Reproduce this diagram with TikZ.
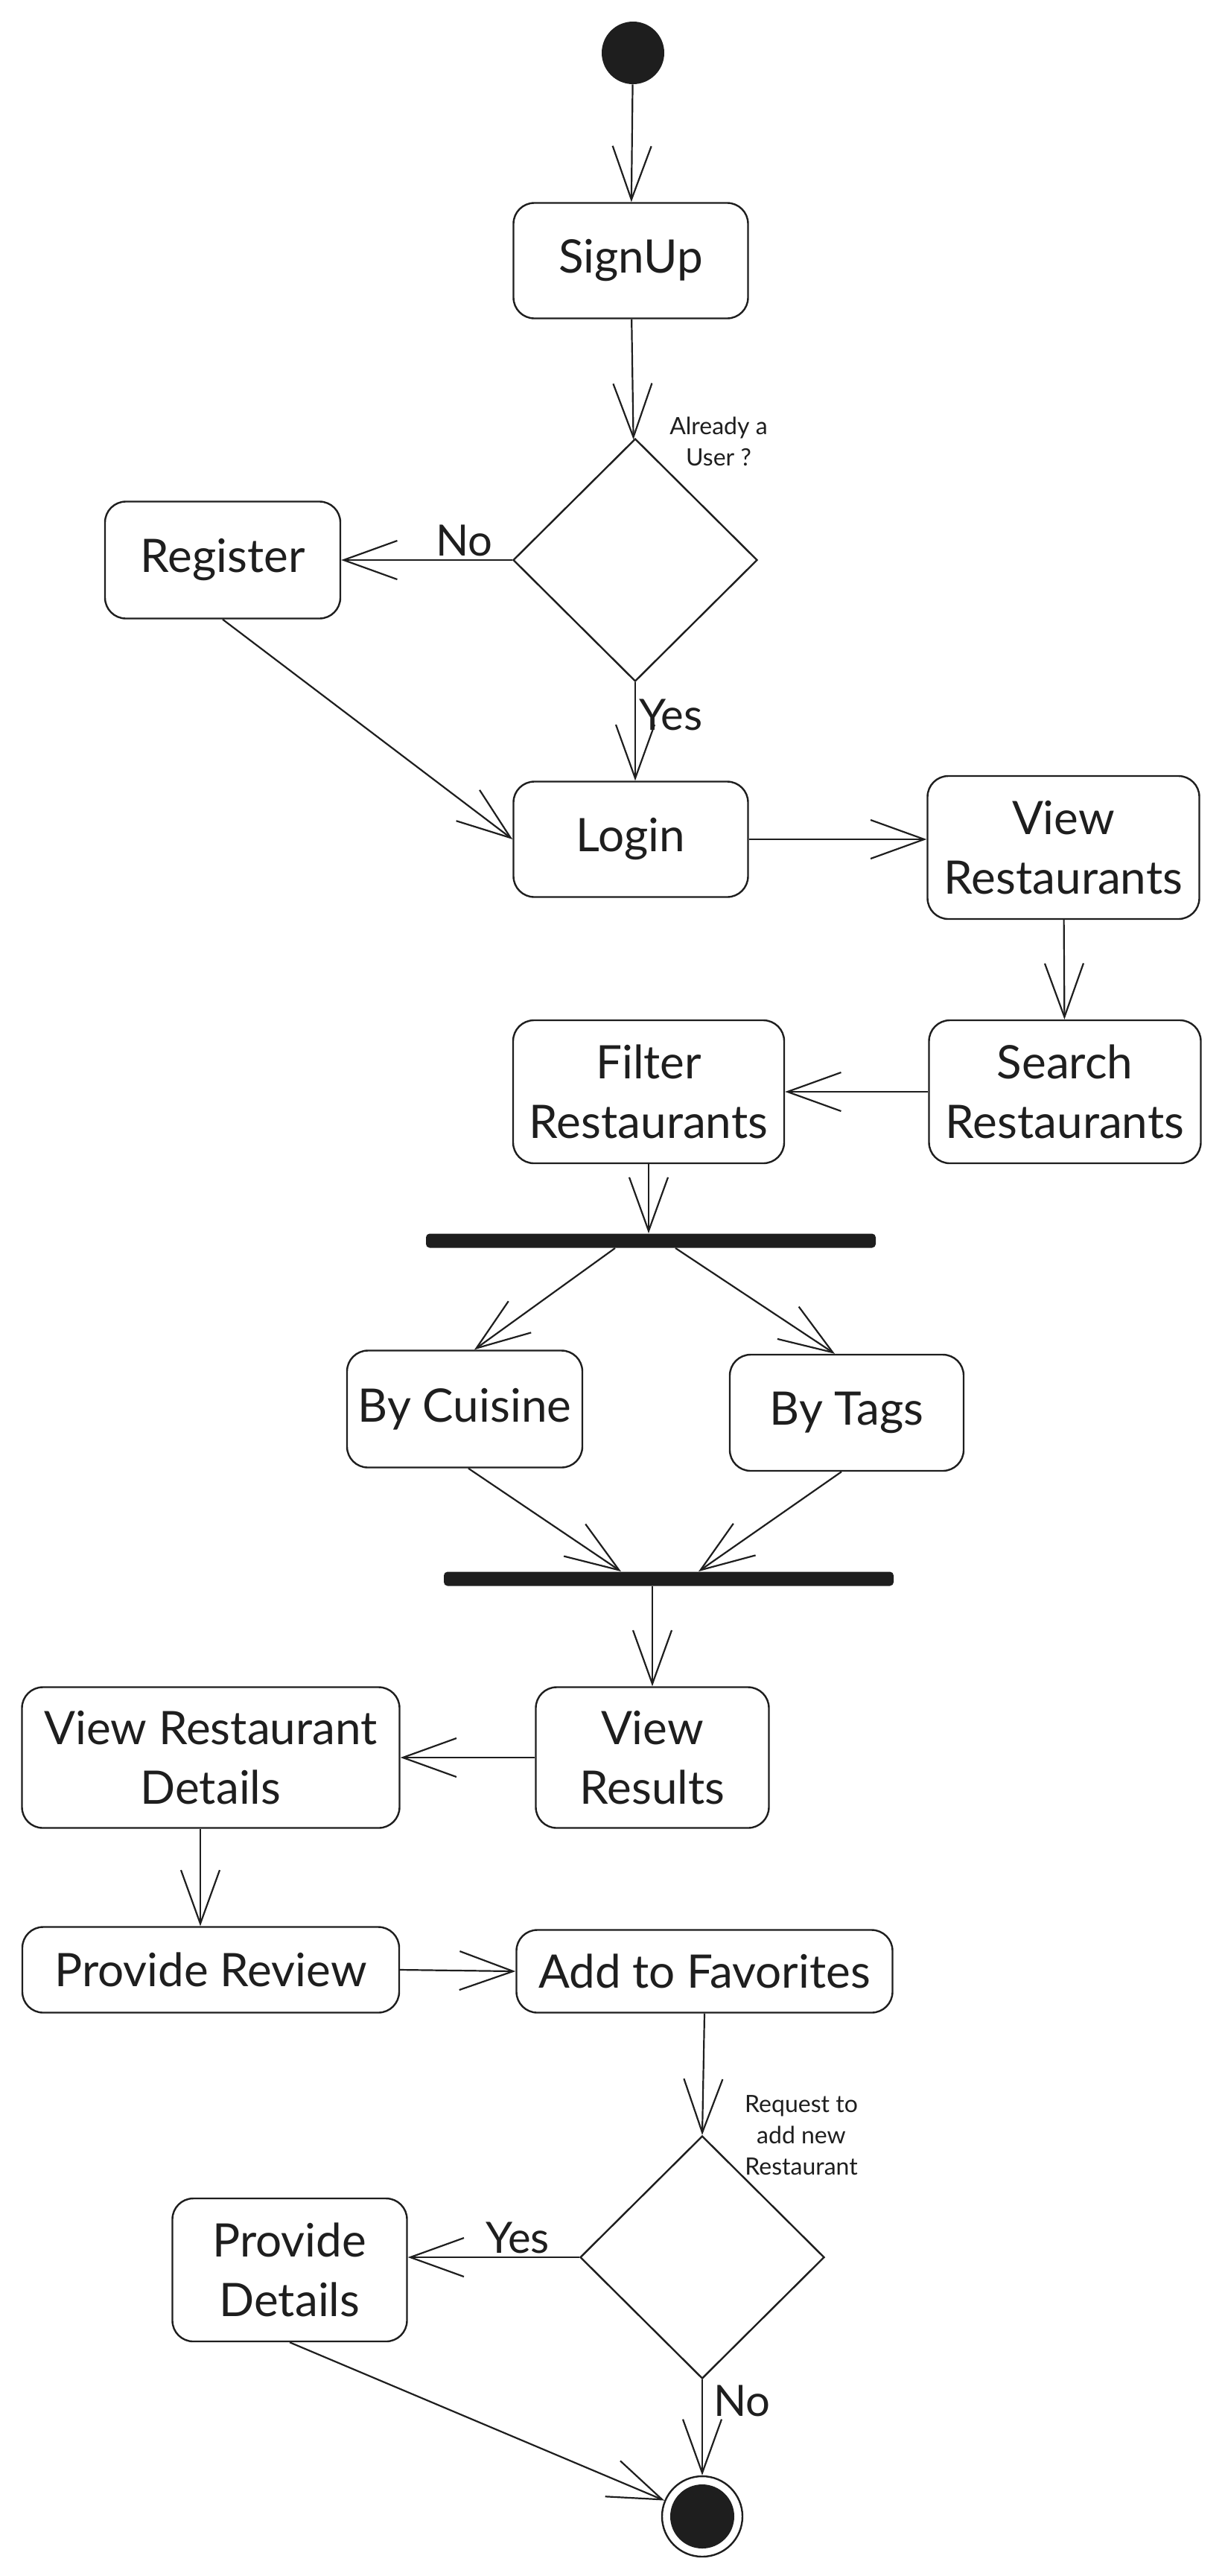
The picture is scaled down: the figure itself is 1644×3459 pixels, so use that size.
\documentclass[tikz,border=0pt]{standalone}
\usepackage{fontspec}
\setmainfont{Lato}
\usetikzlibrary{arrows.meta,shapes.geometric,calc}
\definecolor{ink}{RGB}{30,30,30}
\begin{document}
\begin{tikzpicture}[x=0.5pt,y=-0.5pt,
  every node/.style={text=ink},
  act/.style={draw=ink, line width=1.2pt, rounded corners=14pt, align=center, font=\fontsize{31}{40}\selectfont, inner sep=0pt},
  dec/.style={draw=ink, line width=1.2pt, diamond, minimum width=164pt, minimum height=163pt, inner sep=0pt},
  bar/.style={fill=ink, rounded corners=2.5pt, minimum height=9.5pt, inner sep=0pt, minimum width=302pt},
  flow/.style={draw=ink, line width=1.1pt, -{Straight Barb[length=36pt,width=26pt,line width=1.1pt]}},
  lbl/.style={font=\fontsize{29}{32}\selectfont, inner sep=2pt},
  note/.style={font=\fontsize{16}{21}\selectfont, align=center, inner sep=0pt}
]
\useasboundingbox (0,0) rectangle (1644,3459);

\node[circle, fill=ink, minimum size=42pt, inner sep=0pt] (start) at (850,71) {};
\node[act, minimum width=157.5pt, minimum height=77.5pt] (signup) at (847,350) {SignUp};
\node[dec] (d1) at (853,752) {};
\node[note] (q1) at (965,593) {Already a\\User ?};
\node[act, minimum width=158pt, minimum height=78.5pt] (register) at (299,752) {Register};
\node[act, minimum width=157.5pt, minimum height=77.5pt] (login) at (847,1127) {Login};
\node[act, minimum width=182.5pt, minimum height=96pt] (viewrest) at (1428,1138) {View\\Restaurants};
\node[act, minimum width=182.5pt, minimum height=96pt] (search) at (1430,1466) {Search\\Restaurants};
\node[act, minimum width=182pt, minimum height=96pt] (filter) at (871,1466) {Filter\\Restaurants};
\node[bar] (bar1) at (874,1666) {};
\node[act, minimum width=158pt, minimum height=78.5pt] (cuisine) at (624,1892) {By Cuisine};
\node[act, minimum width=157pt, minimum height=78pt] (tags) at (1137,1897) {By Tags};
\node[bar] (bar2) at (898,2120) {};
\node[act, minimum width=156.5pt, minimum height=94.5pt] (results) at (876,2360) {View\\Results};
\node[act, minimum width=253.5pt, minimum height=94.5pt] (details) at (283,2360) {View Restaurant\\Details};
\node[act, minimum width=253pt, minimum height=57.5pt] (review) at (283,2645) {Provide Review};
\node[act, minimum width=252.5pt, minimum height=55.5pt] (fav) at (946,2647) {Add to Favorites};
\node[dec] (d2) at (943,3031) {};
\node[note] (q2) at (1076,2867) {Request to\\add new\\Restaurant};
\node[act, minimum width=157.5pt, minimum height=96pt] (provide) at (389,3048) {Provide\\Details};
\node[circle, draw=ink, line width=1.2pt, minimum size=54pt, inner sep=0pt] (end) at (943,3379) {};
\fill[ink] (end.center) circle (21.5pt);

\draw[flow] (start) -- (signup);
\draw[flow] (signup) -- (d1);
\draw[flow] (d1.west) -- node[lbl, above, pos=0.28]{No} (register.east);
\draw[flow] (d1.south) -- node[lbl, right, pos=0.33]{Yes} (d1.south |- login.north);
\draw[flow] (register.south) -- (login.west);
\draw[flow] (login.east) -- (login.east -| viewrest.west);
\draw[flow] (viewrest) -- (search);
\draw[flow] (search.west) -- (search.west -| filter.east);
\draw[flow] (filter.south) -- (filter.south |- bar1.north);
\draw[flow] ($(bar1.south)+(-48,0)$) -- ($(cuisine.north)+(13,0)$);
\draw[flow] ($(bar1.south)+(33,0)$) -- ($(tags.north)+(-16,0)$);
\draw[flow] ($(cuisine.south)+(5,0)$) -- ($(bar2.north)+(-64,0)$);
\draw[flow] ($(tags.south)+(-7,0)$) -- ($(bar2.north)+(40,0)$);
\draw[flow] (results.north |- bar2.south) -- (results.north);
\draw[flow] (results.west) -- (details.east);
\draw[flow] ($(details.south)+(-14,0)$) -- ($(review.north)+(-14,0)$);
\draw[flow] (review.east) -- (fav.west);
\draw[flow] (fav.south) -- (d2.north);
\draw[flow] (d2.west) -- node[lbl, above, pos=0.36]{Yes} (d2.west -| provide.east);
\draw[flow] (d2.south) -- node[lbl, right, pos=0.22, xshift=5pt]{No} (end.north);
\draw[flow] (provide.south) -- (end);
\end{tikzpicture}
\end{document}
